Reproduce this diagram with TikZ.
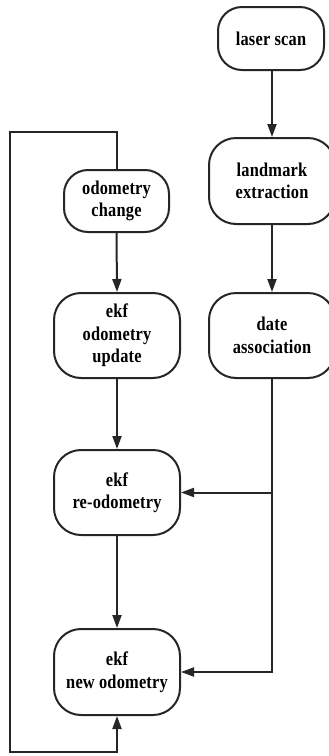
\documentclass[tikz,border=0pt]{standalone}
\usepackage{fontspec}
\setmainfont{Liberation Serif}[FakeStretch=0.84,LetterSpace=1]
\usetikzlibrary{arrows.meta}
\begin{document}
\begin{tikzpicture}[x=1pt,y=-1pt,
  every node/.style={font=\bfseries\fontsize{19.5}{22.5}\selectfont},
  block/.style={draw=black!85, line width=2pt, rounded corners=27pt,
    align=center, inner sep=0pt, minimum width=126pt, minimum height=85pt, fill=white},
  flow/.style={draw=black!85, line width=2pt,
    -{Triangle[length=13pt,width=9pt]}}]
\useasboundingbox (0,0) rectangle (329,756);

% right column
\node[block, minimum width=106pt, minimum height=63pt, rounded corners=24pt] (laser) at (271,38.5) {laser scan};
\node[block, minimum height=86pt] (land) at (272,181) {landmark\\extraction};
\node[block] (date) at (272,335.5) {date\\association};

% left column
\node[block, minimum width=105pt, minimum height=62pt, rounded corners=24pt] (odo) at (116.5,201) {odometry\\change};
\node[block] (upd) at (117,335.5) {ekf\\odometry\\update};
\node[block] (reodo) at (117,492.5) {ekf\\re-odometry};
\node[block, minimum height=86pt] (newodo) at (117,672) {ekf\\new odometry};

% straight arrows
\draw[flow] (laser.south -| land.north) -- (land.north);
\draw[flow] (land.south) -- (date.north);
\draw[flow] (odo.south) -- (upd.north);
\draw[flow] (upd.south) -- (reodo.north);
\draw[flow] (reodo.south) -- (newodo.north);

% data association feeds both ekf steps
\coordinate (split) at (date.south |- reodo.east);
\draw[flow] (split) -- (reodo.east);
\draw[flow] (date.south) |- (newodo.east);

% feedback loop
\coordinate (lt) at (10,132);
\coordinate (lb) at (10,752);
\draw[flow] (odo.north) |- (lt) -- (lb) -| (newodo.south);
\end{tikzpicture}
\end{document}
